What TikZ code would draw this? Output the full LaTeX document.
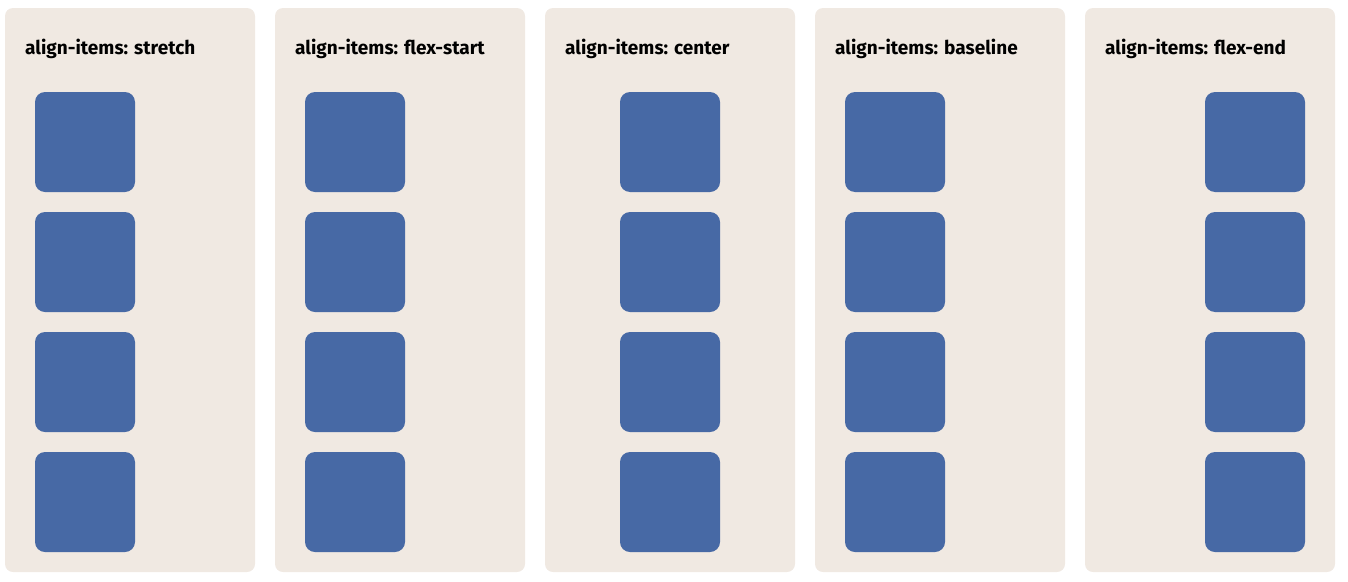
\documentclass[tikz,border=0pt]{standalone}
\usepackage{fontspec}
\setmainfont{Fira Sans}
\usetikzlibrary{calc}
\definecolor{panelbg}{HTML}{F0E9E2}
\definecolor{itemblue}{HTML}{4769A5}

\begin{document}
\begin{tikzpicture}[x=1pt,y=-1pt,
  panel/.style={fill=panelbg,rounded corners=8pt,draw=none},
  item/.style={fill=itemblue,rounded corners=10pt,draw=none,minimum width=100pt,minimum height=100pt,inner sep=0pt},
  title/.style={anchor=west,inner sep=0pt,font=\fontsize{19}{22}\selectfont\bfseries}]
\useasboundingbox (0,0) rectangle (1348,581);
\foreach \i/\name/\off in {0/stretch/30,1/flex-start/30,2/center/75,3/baseline/30,4/flex-end/120} {
  \fill[panel] (5+270*\i,8) rectangle (255+270*\i,572);
  \node[title] (title\i) at (25+270*\i,48.5) {align-items: \name};
  \foreach \j in {0,...,3} {
    \node[item] (item\i\j) at (5+270*\i+\off+50,142+120*\j) {};
  }
}
\end{tikzpicture}
\end{document}
